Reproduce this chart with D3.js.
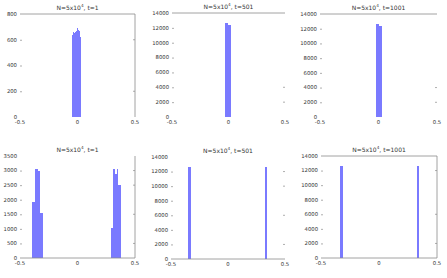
<!DOCTYPE html>
<html>
<head>
<meta charset="utf-8">
<script src="https://cdn.jsdelivr.net/npm/d3@7"></script>
<style>
  body { margin: 0; background: #fff; }
  text { font-family: "DejaVu Sans", sans-serif; fill: #333; }
</style>
</head>
<body>
<svg id="chart" width="447" height="278"></svg>
<script>
// ---- data ----
const xTicks = [-0.5, 0, 0.5]
const yTicksA = [0, 200, 400, 600, 800]
const yTicksB = [0, 500, 1000, 1500, 2000, 2500, 3000, 3500]
const yTicksC = [0, 2000, 4000, 6000, 8000, 10000, 12000, 14000]
const times = [1, 501, 1001]

// single cluster, t=1 : fine bins
const p1Start = -0.048
const p1Width = 0.0025
const p1Counts = [612, 640, 655, 633, 648, 661, 627, 670, 652, 644, 681, 659, 638, 692, 667, 650,
  703, 672, 645, 688, 660, 634, 676, 655, 641, 668, 590, 652, 622, 610, 560, 530]

// single cluster, t=501 / t=1001
const p2Edges = [-0.03, -0.004, 0.022]
const p2Counts = [12600, 12400]
const p3Edges = [-0.024, 0.003, 0.03]
const p3Counts = [12600, 12400]

// two clusters, t=1
const p4Edges = [-0.395, -0.369, -0.343, -0.326, -0.3, 0.287, 0.307, 0.325, 0.342, 0.354, 0.377]
const p4Counts = [1920, 3040, 2975, 1560, 0, 1040, 3040, 2880, 3040, 2500]

// two clusters, t=501 / t=1001
const p5Edges = [-0.35, -0.328, 0.325, 0.343]
const p5Counts = [12600, 0, 12600]
const p6Edges = [-0.336, -0.313, 0.328, 0.349]
const p6Counts = [12600, 0, 12600]

const binsFrom = (edges, counts) => counts.map((c, i) => ({ x0: edges[i], x1: edges[i + 1], y: c }))

const p1Bins = p1Counts.map((c, i) => ({ x0: p1Start + i * p1Width, x1: p1Start + (i + 1) * p1Width, y: c }))

const panels = [
  { bins: p1Bins, yTicks: yTicksA, t: times[0], box: { l: 20, r: 135, t: 14, b: 117 }, sides: ['top', 'right'], rightTicks: [600, 200] },
  { bins: binsFrom(p2Edges, p2Counts), yTicks: yTicksC, t: times[1], box: { l: 172, r: 285, t: 13, b: 117 }, sides: ['top'], rightTicks: [4000, 2000] },
  { bins: binsFrom(p3Edges, p3Counts), yTicks: yTicksC, t: times[2], box: { l: 320, r: 437, t: 14, b: 117 }, sides: ['top'], rightTicks: [4000, 2000] },
  { bins: binsFrom(p4Edges, p4Counts), yTicks: yTicksB, t: times[0], box: { l: 20, r: 135, t: 156, b: 258 }, sides: ['right', 'bottom'], rightTicks: [3000, 2500, 1500, 500] },
  { bins: binsFrom(p5Edges, p5Counts), yTicks: yTicksC, t: times[1], box: { l: 171, r: 285, t: 157, b: 259 }, sides: ['bottom'], rightTicks: [12000, 10000, 6000, 2000] },
  { bins: binsFrom(p6Edges, p6Counts), yTicks: yTicksC, t: times[2], box: { l: 321, r: 437, t: 156, b: 258 }, sides: ['top', 'right', 'bottom'], rightTicks: [12000, 6000, 2000] }
]

const svg = d3.select('#chart')
const barColor = '#7a7aff'
const lineColor = '#8a8a8a'

panels.forEach(p => {
  const { l, r, t, b } = p.box
  const x = d3.scaleLinear().domain([-0.5, 0.5]).range([l, r])
  const y = d3.scaleLinear().domain([0, d3.max(p.yTicks)]).range([b, t])

  const g = svg.append('g')

  // bars
  g.selectAll('rect')
    .data(p.bins.filter(d => d.y > 0))
    .enter().append('rect')
    .attr('x', d => x(d.x0))
    .attr('width', d => Math.max(0.5, x(d.x1) - x(d.x0)))
    .attr('y', d => y(d.y))
    .attr('height', d => y(0) - y(d.y))
    .attr('fill', barColor)
    .attr('shape-rendering', 'crispEdges')

  // partial box lines (as in the source image)
  const segs = {
    top: [l, t, r, t],
    right: [r, t, r, b],
    bottom: [l, b, r, b]
  }
  p.sides.forEach(s => {
    const [x1, y1, x2, y2] = segs[s]
    g.append('line')
      .attr('x1', x1).attr('y1', y1).attr('x2', x2).attr('y2', y2)
      .attr('stroke', lineColor).attr('stroke-width', 0.8)
  })

  // y axis: labels + small inward ticks
  const yAxis = d3.axisRight(y).tickValues(p.yTicks).tickSize(2).tickPadding(0).tickFormat('')
  g.append('g').attr('transform', `translate(${l},0)`).call(yAxis)
    .call(a => a.select('.domain').remove())
    .call(a => a.selectAll('.tick line').attr('stroke', lineColor).attr('stroke-width', 0.7)
      .filter(d => d === 0 || d === d3.max(p.yTicks)).remove())

  g.selectAll('.ylab')
    .data(p.yTicks)
    .enter().append('text')
    .attr('class', 'ylab')
    .attr('x', l - 3)
    .attr('y', d => y(d))
    .attr('dy', '0.35em')
    .attr('text-anchor', 'end')
    .attr('font-size', 5.3)
    .text(d => d)

  // right-side ticks
  g.selectAll('.rtick')
    .data(p.rightTicks)
    .enter().append('line')
    .attr('x1', r - 2).attr('x2', r)
    .attr('y1', d => y(d)).attr('y2', d => y(d))
    .attr('stroke', lineColor).attr('stroke-width', 0.7)

  // x labels
  g.selectAll('.xlab')
    .data(xTicks)
    .enter().append('text')
    .attr('x', d => x(d))
    .attr('y', b + 7.2)
    .attr('text-anchor', 'middle')
    .attr('font-size', 5.3)
    .text(d => d)

  // title
  const title = g.append('text')
    .attr('x', (l + r) / 2)
    .attr('y', t - 4.5)
    .attr('text-anchor', 'middle')
    .attr('font-size', 6)
  title.append('tspan').text('N=5x10')
  title.append('tspan').attr('font-size', 4.2).attr('dy', -2.2).text('4')
  title.append('tspan').attr('dy', 2.2).text(`, t=${p.t}`)
})
</script>
</body>
</html>
